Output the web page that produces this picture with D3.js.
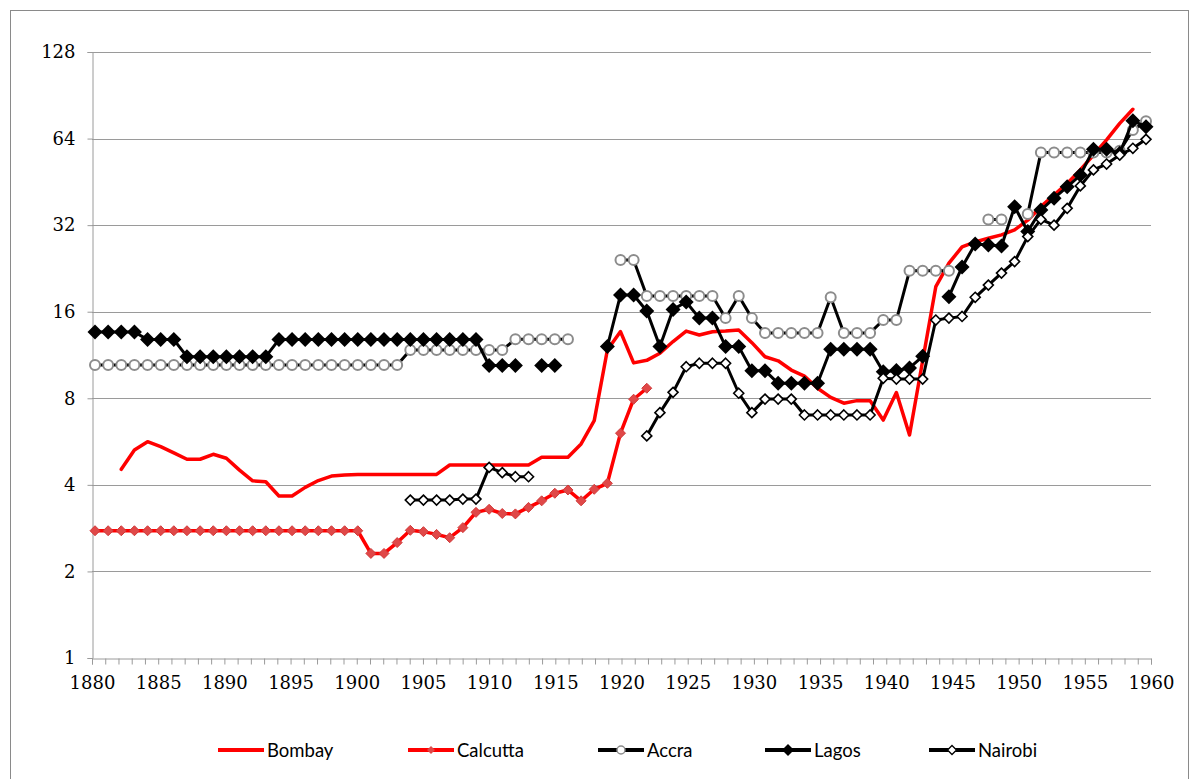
<!DOCTYPE html>
<html><head><meta charset="utf-8">
<script src="https://cdn.jsdelivr.net/npm/d3@7"></script>
<style>body{margin:0;background:#fff}svg{display:block}</style>
</head><body>
<svg id="chart" width="1199" height="779"></svg>
<script>
const years = d3.range(1880, 1961);
const yTicks = [1, 2, 4, 8, 16, 32, 64, 128];
const xLabelYears = [1880,1885,1890,1895,1900,1905,1910,1915,1920,1925,1930,1935,1940,1945,1950,1955,1960];
const seriesNames = ["Bombay","Calcutta","Accra","Lagos","Nairobi"];

const bombay = [null,null,4.53,5.29,5.65,5.43,5.17,4.91,4.91,5.11,
 4.95,4.5,4.13,4.1,3.66,3.66,3.92,4.14,4.29,4.33,
 4.35,4.35,4.35,4.35,4.35,4.35,4.35,4.69,4.69,4.69,
 4.69,4.69,4.69,4.69,4.99,4.99,4.99,5.55,6.69,11.78,
 13.65,10.62,10.84,11.47,12.6,13.7,13.28,13.63,13.7,13.82,
 12.49,11.16,10.8,10.03,9.56,8.67,8.06,7.69,7.85,7.85,
 6.72,8.38,5.96,10.8,19.55,23.6,26.9,28.0,28.8,29.6,
 30.8,33.3,37.1,40.7,44.7,49.8,56.1,63.3,72.3,80.9,null];
const calcutta = [2.77,2.77,2.77,2.77,2.77,2.77,2.77,2.77,2.77,2.77,
 2.77,2.77,2.77,2.77,2.77,2.77,2.77,2.77,2.77,2.77,
 2.77,2.31,2.31,2.52,2.78,2.75,2.69,2.62,2.84,3.21,
 3.29,3.18,3.17,3.34,3.52,3.74,3.84,3.52,3.86,4.05,
 6.05,7.94,8.67,null,null,null,null,null,null,null,
 null,null,null,null,null,null,null,null,null,null,
 null,null,null,null,null,null,null,null,null,null,
 null,null,null,null,null,null,null,null,null,null,null];
const accra = [10.44,10.44,10.44,10.44,10.44,10.44,10.44,10.44,10.44,10.44,
 10.44,10.44,10.44,10.44,10.44,10.44,10.44,10.44,10.44,10.44,
 10.44,10.44,10.44,10.44,11.78,11.78,11.78,11.78,11.78,11.78,
 11.78,11.78,12.83,12.83,12.83,12.83,12.83,null,null,null,
 24.2,24.2,18.15,18.15,18.15,18.15,18.15,18.15,15.2,18.15,
 15.2,13.5,13.5,13.5,13.5,13.5,17.96,13.5,13.5,13.5,
 14.97,14.97,22.2,22.2,22.2,22.2,null,null,33.5,33.5,
 null,35.0,57.3,57.3,57.3,57.3,57.3,57.3,58.0,68.6,73.5];
const lagos = [13.6,13.6,13.6,13.6,12.8,12.8,12.8,11.16,11.16,11.16,
 11.16,11.16,11.16,11.16,12.8,12.8,12.8,12.8,12.8,12.8,
 12.8,12.8,12.8,12.8,12.8,12.8,12.8,12.8,12.8,12.8,
 10.4,10.4,10.4,null,10.4,10.4,null,null,null,12.1,
 18.3,18.3,16.1,12.1,16.3,17.3,15.2,15.2,12.1,12.1,
 9.98,9.98,9.02,9.02,9.02,9.02,11.84,11.84,11.84,11.84,
 9.9,10.0,10.2,11.2,null,18.05,22.9,27.5,27.3,27.1,
 37.1,30.4,36.1,39.7,43.5,47.8,58.7,58.7,56.9,73.8,70.4];
const nairobi = [null,null,null,null,null,null,null,null,null,null,
 null,null,null,null,null,null,null,null,null,null,
 null,null,null,null,3.54,3.54,3.54,3.54,3.57,3.57,
 4.6,4.41,4.27,4.27,null,null,null,null,null,null,
 null,null,5.92,7.13,8.39,10.3,10.59,10.59,10.59,8.33,
 7.13,7.95,7.95,7.95,7.0,7.0,7.0,7.0,7.0,7.0,
 9.39,9.33,9.33,9.33,14.97,15.2,15.4,17.96,19.8,21.8,
 23.9,29.2,33.5,32.0,36.6,43.8,49.8,52.2,56.1,59.2,63.6];

const svg = d3.select("#chart");
const plot = {left: 92, right: 1151, top: 52, bottom: 658};

// outer frame
svg.append("rect").attr("x", 10.5).attr("y", 10.5).attr("width", 1178).attr("height", 790)
  .attr("fill", "none").attr("stroke", "#8a8a8a").attr("stroke-width", 1);

const xAxisScale = d3.scaleLinear().domain([1880, 1960]).range([plot.left, plot.right]);
const xPt = d3.scaleLinear().domain([1880, 1960]).range([95, 1146]);
const y = d3.scaleLog().base(2).domain([1, 128]).range([plot.bottom, plot.top]);

const gridColor = "#9a9a9a";
svg.append("g").selectAll("line").data(yTicks.filter(v => v > 1)).join("line")
  .attr("x1", plot.left).attr("x2", plot.right)
  .attr("y1", d => Math.round(y(d)) + 0.5).attr("y2", d => Math.round(y(d)) + 0.5)
  .attr("stroke", gridColor).attr("stroke-width", 1);

const yAxis = svg.append("g").attr("transform", `translate(${plot.left + 0.5},0)`)
  .call(d3.axisLeft(y).tickValues(yTicks).tickFormat(d3.format("d")).tickSize(5).tickPadding(12));
yAxis.select(".domain").attr("stroke", gridColor);
yAxis.selectAll(".tick line").attr("stroke", gridColor);
yAxis.selectAll("text").attr("font-family", "DejaVu Serif").attr("font-size", "18px").attr("fill", "#000");

const xAxis = svg.append("g").attr("transform", `translate(0,${plot.bottom + 0.5})`)
  .call(d3.axisBottom(xAxisScale).tickValues(years)
    .tickFormat(d => xLabelYears.includes(d) ? String(d) : "").tickSize(6).tickPadding(12));
xAxis.select(".domain").attr("stroke", gridColor);
xAxis.selectAll(".tick line").attr("stroke", gridColor);
xAxis.selectAll("text").attr("font-family", "DejaVu Serif").attr("font-size", "18px").attr("fill", "#000");

const line = d3.line().defined(d => d[1] != null).x(d => xPt(d[0])).y(d => y(d[1]));
const pts = arr => years.map((yr, i) => [yr, arr[i]]);
const diamond = r => `M0,${-r}L${r},0L0,${r}L${-r},0Z`;

function drawSeries(arr, cfg) {
  const data = pts(arr);
  svg.append("path").datum(data).attr("d", line)
    .attr("fill", "none").attr("stroke", cfg.color).attr("stroke-width", cfg.width)
    .attr("stroke-linejoin", "round").attr("stroke-linecap", "round");
  if (cfg.marker) {
    const m = svg.append("g").selectAll("g").data(data.filter(d => d[1] != null)).join("g")
      .attr("transform", d => `translate(${xPt(d[0])},${y(d[1])})`);
    cfg.marker(m);
  }
}

const markers = {
  Calcutta: g => g.append("path").attr("d", diamond(5)).attr("fill", "#e04848").attr("stroke", "#d03a3a").attr("stroke-width", 1),
  Accra: g => g.append("circle").attr("r", 5).attr("fill", "#fff").attr("stroke", "#8c8c8c").attr("stroke-width", 2),
  Lagos: g => g.append("path").attr("d", diamond(7.5)).attr("fill", "#000"),
  Nairobi: g => g.append("path").attr("d", diamond(5)).attr("fill", "#fff").attr("stroke", "#000").attr("stroke-width", 1.6)
};

drawSeries(bombay, {color: "#ff0000", width: 3.5});
drawSeries(calcutta, {color: "#ff0000", width: 3.5, marker: markers.Calcutta});
drawSeries(accra, {color: "#000", width: 3, marker: markers.Accra});
drawSeries(lagos, {color: "#000", width: 3, marker: markers.Lagos});
drawSeries(nairobi, {color: "#000", width: 3, marker: markers.Nairobi});

const legendX = [218, 408, 598, 765, 929];
const legendCfg = [
  {color: "#ff0000", w: 4, m: null},
  {color: "#ff0000", w: 4, m: g => g.append("path").attr("d", diamond(4)).attr("fill", "#e04848")},
  {color: "#000", w: 4, m: g => g.append("circle").attr("r", 4).attr("fill", "#fff").attr("stroke", "#8c8c8c").attr("stroke-width", 1.5)},
  {color: "#000", w: 4, m: g => g.append("path").attr("d", diamond(6)).attr("fill", "#000")},
  {color: "#000", w: 4, m: g => g.append("path").attr("d", diamond(4.5)).attr("fill", "#fff").attr("stroke", "#000").attr("stroke-width", 1.3)}
];
const ly = 750;
seriesNames.forEach((name, i) => {
  const g = svg.append("g").attr("transform", `translate(${legendX[i]},${ly})`);
  g.append("line").attr("x1", 0).attr("x2", 46).attr("y1", 0).attr("y2", 0)
    .attr("stroke", legendCfg[i].color).attr("stroke-width", legendCfg[i].w);
  if (legendCfg[i].m) legendCfg[i].m(g.append("g").attr("transform", "translate(23,0)"));
  g.append("text").attr("x", 49).attr("y", 6.5).text(name)
    .attr("font-family", "Lato").attr("font-size", "18.5px").attr("fill", "#000");
});
</script>
</body></html>
